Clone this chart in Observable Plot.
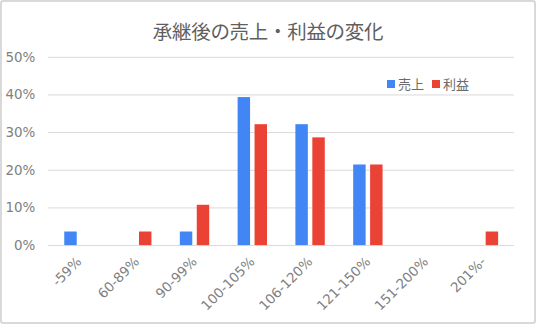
<!DOCTYPE html>
<html><head><meta charset="utf-8">
<script src="https://cdn.jsdelivr.net/npm/d3@7"></script>
<script src="https://cdn.jsdelivr.net/npm/@observablehq/plot@0.6"></script>
<style>
body{margin:0;background:#fff;font-family:"Noto Sans CJK JP","Noto Sans",sans-serif;}
#wrap{position:relative;width:536px;height:324px;box-sizing:border-box;border:2px solid #d9d9d9;border-radius:3px;overflow:hidden;background:#fff;}
#chart{position:absolute;left:-2px;top:-2px;}
#title{position:absolute;left:0;width:532px;top:14px;text-align:center;font-size:19.5px;color:#5f5f5f;letter-spacing:-0.3px;}
#legend{position:absolute;left:385px;top:72px;font-size:13px;color:#6a6a6a;display:flex;align-items:center;}
#legend span.sw{display:inline-block;width:8px;height:8px;margin-right:3px;}
#legend span.lb{margin-right:8px;}
</style></head>
<body>
<div id="wrap">
<div id="chart"></div>
<div id="title">承継後の売上・利益の変化</div>
<div id="legend"><span class="sw" style="background:#4285F4"></span><span class="lb">売上</span><span class="sw" style="background:#EA4335"></span><span class="lb">利益</span></div>
</div>
<script>
const categories = ["-59%","60-89%","90-99%","100-105%","106-120%","121-150%","151-200%","201%-"];
const sales  = [0.036, 0, 0.036, 0.393, 0.321, 0.214, 0, 0];
const profit = [0, 0.036, 0.107, 0.321, 0.286, 0.214, 0, 0.036];
const yTicks = [0, 0.1, 0.2, 0.3, 0.4, 0.5];
const seriesNames = ["売上","利益"];
const colors = ["#4285F4","#EA4335"];

const salesData = categories.map((c,i)=>({cat:c, value:sales[i], series:seriesNames[0]}));
const profitData = categories.map((c,i)=>({cat:c, value:profit[i], series:seriesNames[1]}));

const chart = Plot.plot({
  width: 536, height: 324,
  marginTop: 57, marginBottom: 78, marginLeft: 48, marginRight: 20,
  style: {fontFamily: '"DejaVu Sans","Noto Sans CJK JP",sans-serif', color: "#808080", background: "transparent", fontSize: "13.5px"},
  x: {domain: categories, padding: 0},
  y: {domain: [0, 0.5]},
  color: {domain: seriesNames, range: colors},
  marks: [
    Plot.ruleY(yTicks, {stroke: "#d9d9d9", strokeWidth: 1}),
    Plot.barY(salesData, {x: "cat", y: "value", fill: "series", insetLeft: 14.5, insetRight: 31}),
    Plot.barY(profitData, {x: "cat", y: "value", fill: "series", insetLeft: 31.5, insetRight: 14}),
    Plot.axisY({ticks: yTicks, tickFormat: d => Math.round(d*100) + "%", label: null, tickSize: 0, tickPadding: 13, fontSize: 13.5}),
    Plot.axisX({label: null, tickSize: 0, tickRotate: -45, tickPadding: 14, fontSize: 13.5})
  ]
});
document.getElementById("chart").appendChild(chart);
</script>
</body></html>
